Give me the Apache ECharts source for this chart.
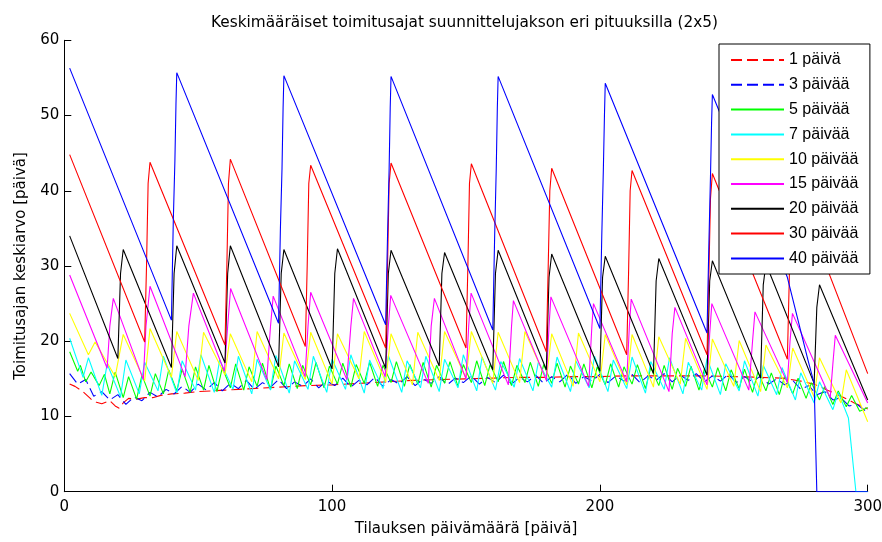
<!DOCTYPE html>
<html><head><meta charset="utf-8">
<script src="https://cdn.jsdelivr.net/npm/echarts@6/dist/echarts.min.js"></script>
<style>html,body{margin:0;padding:0;background:#fff}#c{width:882px;height:542px}</style>
</head><body><div id="c"></div>
<script>
const titleText = 'Keskimääräiset toimitusajat suunnittelujakson eri pituuksilla (2x5)';
const xName = 'Tilauksen päivämäärä [päivä]';
const yName = 'Toimitusajan keskiarvo [päivä]';
const names = ['1 päivä','3 päivää','5 päivää','7 päivää','10 päivää','15 päivää','20 päivää','30 päivää','40 päivää'];
const colors = ['#ff0000','#0000ff','#00ff00','#00ffff','#ffff00','#ff00ff','#000000','#ff0000','#0000ff'];
const dashed = [true,true,false,false,false,false,false,false,false];
const xTicks = [0,100,200,300];
const yTicks = [0,10,20,30,40,50,60];

const d1 = [[2,14.3],[4,14.0],[7,13.3],[10,12.3],[12,11.9],[14,11.7],[17,12.1],[19,11.4],[20.5,11.1],[22,11.8],[24,12.4],[27,12.3],[30,12.5],[33,12.5],[36,12.8],[40,13.0],[45,13.1],[50,13.3],[55,13.4],[60,13.5],[65,13.6],[70,13.7],[80,13.9],[90,14.1],[100,14.2],[110,14.4],[120,14.6],[130,14.8],[140,14.9],[150,15.0],[160,15.1],[170,15.2],[180,15.2],[190,15.3],[200,15.3],[210,15.4],[220,15.4],[230,15.4],[240,15.4],[250,15.3],[260,15.2],[268,15.1],[275,14.7],[280,14.3],[285,13.5],[290,12.7],[295,11.8],[300,11.0]];

const d3 = [[2,15.7],[5,14.3],[8,14.9],[11,12.7],[14,13.3],[17,12.2],[20,12.9],[23,11.6],[26,12.6],[29,12.1],[32,13.2],[35,12.6],[38,13.6],[41,13.0],[44,14.0],[47,13.2],[50,14.3],[53,13.5],[56,14.5],[59,13.4],[62,14.4],[65,13.7],[68,14.8],[71,13.6],[74,14.5],[77,13.9],[80,14.9],[83,13.7],[86,14.6],[89,14.0],[92,15.0],[95,13.8],[98,14.7],[101,14.1],[104,15.1],[107,13.9],[110,14.8],[113,14.2],[116,15.2],[119,14.0],[122,14.9],[125,14.3],[128,15.3],[131,14.1],[134,15.0],[137,14.4],[140,15.3],[143,14.2],[146,15.1],[149,14.5],[152,15.4],[155,14.3],[158,15.2],[161,14.5],[164,15.5],[167,14.3],[170,15.2],[173,14.6],[176,15.5],[179,14.4],[182,15.3],[185,14.6],[188,15.6],[191,14.4],[194,15.3],[197,14.7],[200,15.6],[203,14.5],[206,15.4],[209,14.7],[212,15.6],[215,14.5],[218,15.4],[221,14.8],[224,15.7],[227,14.6],[230,15.5],[233,14.8],[236,15.7],[239,14.6],[242,15.4],[245,14.7],[248,15.6],[251,14.5],[254,15.3],[257,14.6],[260,15.4],[263,14.3],[266,15.0],[269,14.2],[272,14.8],[275,13.6],[278,14.1],[281,12.9],[284,13.3],[287,12.2],[290,12.5],[293,11.4],[296,11.6],[299,10.8]];

const d5 = [[2,18.6],[5,16.0],[6,16.8],[8,14.6],[10,15.9],[13,14.1],[15,15.6],[17,13.0],[19,15.9],[22,12.5],[24,15.3],[27,12.3],[29,15.5],[32,12.7],[34,15.7],[37,13.0],[39,16.2],[42,13.4],[44,16.3],[47,13.2],[49,16.6],[52,13.5],[54,16.8],[57,13.3],[59,16.5],[62,13.8],[64,17.0],[67,13.5],[69,16.6],[72,14.0],[74,17.1],[77,13.6],[79,16.7],[82,14.1],[84,17.0],[87,13.7],[89,16.8],[92,14.2],[94,17.2],[97,13.8],[99,16.7],[102,14.3],[104,17.1],[107,13.9],[109,16.9],[112,14.4],[114,17.2],[117,14.0],[119,16.8],[122,14.5],[124,17.3],[127,14.0],[129,16.9],[132,14.3],[134,17.2],[137,13.9],[139,16.8],[142,14.4],[144,17.3],[147,14.0],[149,16.9],[152,14.5],[154,17.4],[157,14.1],[159,16.9],[162,14.6],[164,17.3],[167,14.1],[169,16.8],[172,14.5],[174,17.2],[177,14.0],[179,16.9],[182,14.4],[184,17.1],[187,13.9],[189,16.7],[192,14.3],[194,17.0],[197,13.8],[199,16.6],[202,14.2],[204,17.0],[207,13.9],[209,16.6],[212,14.3],[214,16.9],[217,13.7],[219,16.5],[222,14.1],[224,16.8],[227,13.6],[229,16.4],[232,14.0],[234,16.7],[237,13.5],[239,16.3],[242,13.9],[244,16.5],[247,13.4],[249,16.2],[252,13.7],[254,16.3],[257,13.2],[259,15.9],[262,13.4],[264,15.8],[267,12.9],[269,15.4],[272,13.0],[274,15.1],[277,12.4],[279,14.5],[282,12.2],[284,14.0],[287,11.6],[289,13.4],[292,11.3],[294,12.8],[297,10.7],[300,11.2]];

const d7 = [[2,20.4],[7,15.2],[9,17.8],[14,12.8],[16,17.0],[21,12.6],[23,17.5],[28,13.0],[30,17.2],[35,13.4],[37,18.0],[42,13.1],[44,17.4],[49,13.5],[51,18.2],[56,13.2],[58,17.5],[63,13.6],[65,18.0],[70,13.0],[72,17.6],[77,13.5],[79,18.1],[84,13.1],[86,17.4],[91,13.6],[93,18.0],[98,13.2],[100,17.6],[105,13.6],[107,18.2],[112,13.1],[114,17.5],[119,13.7],[121,18.1],[126,13.2],[128,17.4],[133,13.8],[135,18.0],[140,13.3],[142,17.6],[147,13.8],[149,18.2],[154,13.4],[156,17.9],[161,13.5],[163,17.3],[168,13.9],[170,17.7],[175,13.4],[177,17.2],[182,13.9],[184,17.9],[189,13.3],[191,17.4],[196,13.8],[198,18.0],[203,13.3],[205,17.5],[210,13.7],[212,17.9],[217,13.1],[219,17.3],[224,13.6],[226,17.8],[231,13.0],[233,17.2],[238,13.5],[240,17.7],[245,12.9],[247,17.0],[252,13.4],[254,17.4],[259,12.7],[261,16.8],[266,12.9],[268,16.5],[273,12.2],[275,15.8],[280,11.8],[282,14.6],[287,10.9],[289,13.2],[292.8,9.8],[295.6,0],[300,0]];

const d10 = [[2,23.7],[9,18.2],[11.5,19.9],[19,15.3],[22,20.9],[30,14.7],[32,21.7],[40,15.2],[42,21.3],[50,14.8],[52,21.2],[60,15.5],[62,21.0],[70,14.6],[72,21.3],[80,15.0],[82,21.1],[90,14.9],[92,21.2],[100,14.3],[102,21.0],[110,15.0],[112,21.3],[120,14.6],[122,21.0],[130,14.2],[132,21.2],[140,14.8],[142,21.3],[150,15.1],[152,21.3],[160,14.4],[162,21.2],[170,14.5],[172,21.3],[180,14.9],[182,21.0],[190,14.0],[192,21.1],[200,14.6],[202,20.9],[210,14.2],[212,20.9],[220,13.9],[222,20.6],[230,14.3],[232,20.4],[240,13.6],[242,20.3],[250,14.0],[252,20.1],[260,13.3],[262,19.5],[270,13.8],[272,19.1],[280,12.6],[282,17.8],[290,11.8],[292,16.2],[300,9.3]];

const d15 = [[2,28.8],[16,16.4],[17,22],[18.3,25.7],[29.5,14.9],[30.5,22],[32,27.3],[45.1,15.3],[46.5,22],[48.2,26.4],[59.8,16.0],[61,22],[62.1,27.0],[75.6,14.9],[77,22],[78,26.0],[89.9,15.3],[91,22],[92,26.5],[105.5,14.9],[107,22],[108,25.7],[119.8,15.3],[121,22],[121.9,26.1],[135.9,14.4],[137,22],[138.2,25.7],[150,15.0],[151,22],[151.9,26.4],[165.8,14.2],[167,22],[167.7,25.4],[180,14.8],[181,22],[181.7,25.9],[195.8,14.0],[197,22],[197.6,25.0],[210,14.6],[211,22],[211.7,25.6],[225.8,13.3],[227,21],[228,24.5],[240,14.2],[241,21],[241.8,25.0],[255.6,13.5],[257,20],[257.9,23.9],[270,14.5],[271,20],[271.9,23.7],[286,12.5],[287,17],[287.9,20.8],[300,11.8]];

const d20 = [[2,34.0],[20,17.7],[21,29],[22,32.2],[40,16.5],[41,29],[42,32.7],[60,17.1],[61,29],[62,32.7],[80,16.6],[81,29],[82,32.2],[100,16.3],[101,29],[102,32.3],[120,16.4],[121,29],[122,32.1],[140,16.7],[141,29],[142,31.8],[160,16.2],[161,29],[162,32.1],[180,16.2],[181,28.5],[182,31.6],[200,16.0],[201,28.5],[202,31.3],[220,15.7],[221,28],[222,31.0],[240,15.5],[241,28],[242,30.7],[260,15.1],[261,27.5],[262,30.3],[280,14.4],[281,24.5],[282,27.5],[300,12.2]];

const d30 = [[2,44.8],[30,19.9],[30.7,30],[31.3,41],[32,43.8],[60,19.5],[60.7,30],[61.3,41],[62,44.2],[90,19.3],[90.7,30],[91.3,41],[92,43.4],[120,19.1],[120.7,30],[121.3,41],[122,43.7],[150,19.1],[150.7,30],[151.3,41],[152,43.6],[180,18.6],[180.7,30],[181.3,40],[182,43.0],[210,18.2],[210.7,29],[211.3,40],[212,42.7],[240,18.2],[240.7,29],[241.3,39],[242,42.3],[270,17.6],[270.7,28],[271.3,38],[272,41.5],[300,15.7]];

const d40 = [[2,56.3],[40,22.8],[40.7,36],[41.3,44],[41.7,51.5],[42,55.7],[80,22.4],[80.7,35],[81.3,43],[81.7,51],[82,55.3],[120,22.2],[120.7,34],[121.3,43],[121.7,51],[122,55.2],[160,21.5],[160.7,34],[161.3,43],[161.7,51],[162,55.2],[200,21.7],[200.7,34],[201.3,43],[201.7,50],[202,54.3],[240,21.1],[240.7,33],[241.3,42],[241.7,49],[242,52.8],[270,28.5],[277.7,17.5],[280,14.4],[281,0],[300,0]];

const allData = [d1,d3,d5,d7,d10,d15,d20,d30,d40];
const WIDE = '"DejaVu Sans", Verdana, sans-serif';
const ARIAL = '"Liberation Sans", Arial, sans-serif';

const chart = echarts.init(document.getElementById('c'), null, {renderer:'canvas'});
chart.setOption({
  animation:false,
  backgroundColor:'#fff',
  title:{text:titleText, left:206, top:11, textStyle:{fontSize:15.3, fontWeight:'normal', color:'#000', fontFamily:WIDE}},
  grid:{left:64.3, right:14.3, top:40.3, bottom:50.3, containLabel:false, outerBoundsMode:'none'},
  legend:{orient:'vertical', left:719, top:44, padding:[8,11.5,7.6,11], itemWidth:53, itemHeight:14, itemGap:8.8,
    backgroundColor:'#fff', borderColor:'#000', borderWidth:1, borderRadius:0,
    itemStyle:{opacity:0},
    textStyle:{fontSize:16, color:'#000', fontFamily:ARIAL}, data:names},
  xAxis:{type:'value', min:0, max:300, interval:100, name:xName, nameLocation:'middle', nameGap:30,
    nameTextStyle:{fontSize:15, color:'#000', fontFamily:WIDE},
    axisLine:{show:true, lineStyle:{color:'#000', width:1}}, axisTick:{show:true, inside:true, length:7, lineStyle:{color:'#000'}},
    axisLabel:{fontSize:15, color:'#000', fontFamily:WIDE, margin:8}, splitLine:{show:false}},
  yAxis:{type:'value', min:0, max:60, interval:10, name:yName, nameLocation:'middle', nameGap:36,
    nameTextStyle:{fontSize:15, color:'#000', fontFamily:WIDE},
    axisLine:{show:true, lineStyle:{color:'#000', width:1}}, axisTick:{show:true, inside:true, length:7, lineStyle:{color:'#000'}},
    axisLabel:{fontSize:15, color:'#000', fontFamily:WIDE, margin:5}, splitLine:{show:false}},
  series: allData.map((d,i)=>({
    name:names[i], type:'line', data:d, symbol:'none', showSymbol:false, silent:true,
    lineStyle:{color:colors[i], width:1.1, type: dashed[i] ? [11,5] : 'solid'},
    itemStyle:{color:colors[i]}
  }))
});
</script></body></html>
